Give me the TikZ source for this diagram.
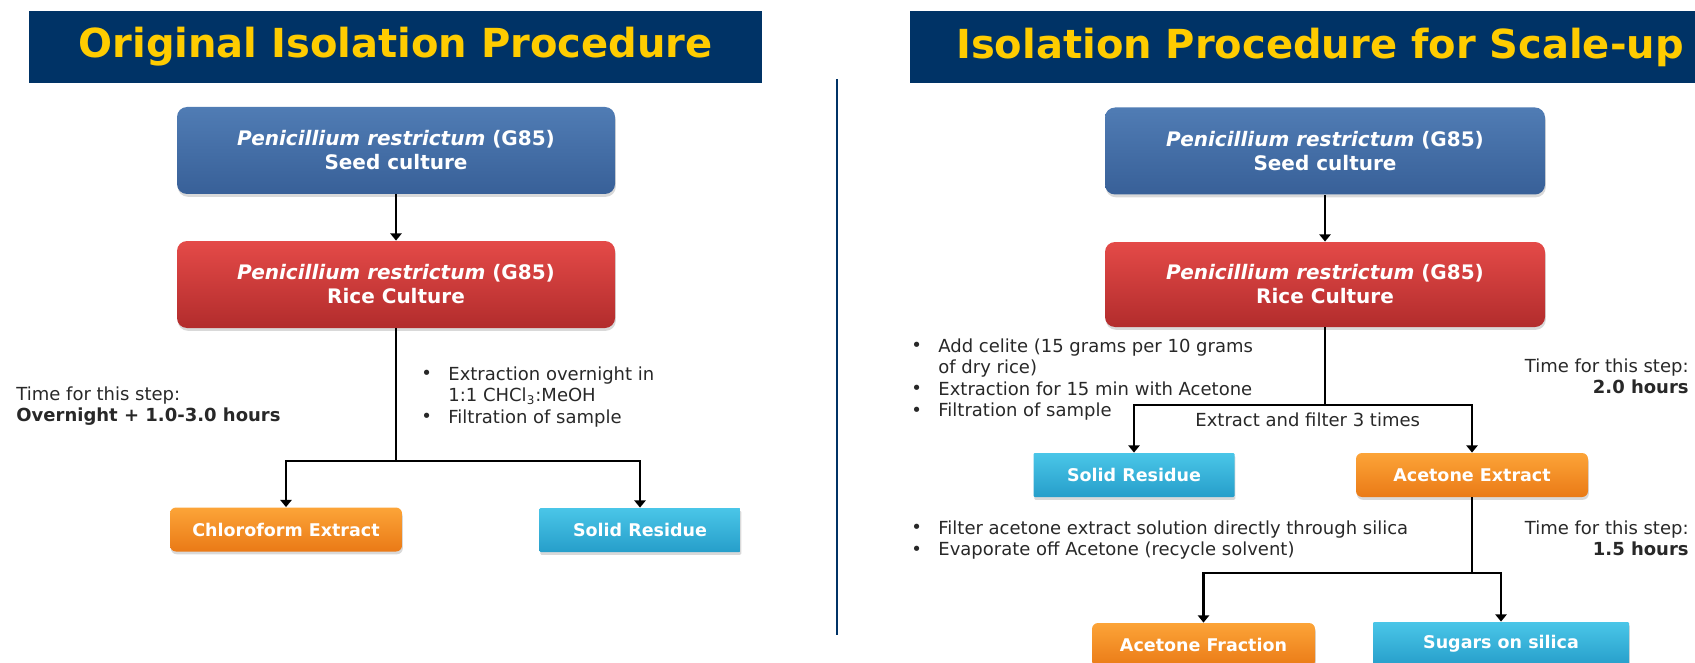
\documentclass[tikz,border=0pt]{standalone}
\usepackage{fontspec}
\usepackage{graphicx}
\setmainfont{DejaVu Sans}
\usetikzlibrary{arrows.meta,shadows}
\definecolor{navy}{RGB}{0,51,102}
\definecolor{gold}{RGB}{255,204,0}
\definecolor{bluetop}{RGB}{80,124,180}
\definecolor{bluebot}{RGB}{56,96,152}
\definecolor{redtop}{RGB}{228,74,72}
\definecolor{redbot}{RGB}{178,44,44}
\definecolor{orgtop}{RGB}{252,164,56}
\definecolor{orgbot}{RGB}{234,122,22}
\definecolor{cyantop}{RGB}{74,198,232}
\definecolor{cyanbot}{RGB}{38,158,202}
\definecolor{bodytxt}{RGB}{40,40,40}
\newcommand{\bul}{\makebox[12.5pt][l]{\hspace*{-1pt}\raisebox{0.05ex}{\scalebox{1.0}{•}}}}
\newcommand{\ind}{\makebox[12.5pt][l]{}}
\tikzset{
  titlebar/.style={fill=navy, text=gold, font=\fontsize{20}{24}\selectfont\bfseries, inner sep=0pt},
  bigbox/.style={rounded corners=5pt, minimum width=219pt, minimum height=43.5pt, inner sep=0pt,
    text=white, font=\fontsize{10}{12}\selectfont\bfseries, align=center,
    drop shadow={shadow xshift=0.4pt, shadow yshift=-1.4pt, opacity=0.3}},
  bluebox/.style={bigbox, top color=bluetop, bottom color=bluebot},
  redbox/.style={bigbox, top color=redtop, bottom color=redbot},
  smallbox/.style={minimum height=22pt, inner sep=0pt, text=white,
    font=\fontsize{8.75}{10}\selectfont\bfseries,
    drop shadow={shadow xshift=0.4pt, shadow yshift=-1.4pt, opacity=0.3}},
  orgbox/.style={smallbox, rounded corners=3pt, top color=orgtop, bottom color=orgbot},
  cyanbox/.style={smallbox, rounded corners=0.6pt, top color=cyantop, bottom color=cyanbot},
  body/.style={text=bodytxt, font=\fontsize{9}{10.75}\selectfont, inner sep=0pt, align=left},
  link/.style={line width=1.1pt, black},
  arr/.style={link, -{Triangle[length=3.6pt,width=5.6pt]}},
}
\begin{document}
\begin{tikzpicture}[x=0.5pt,y=-0.5pt]
\useasboundingbox (0,0) rectangle (1695,663);
\clip (0,0) rectangle (1695,663);

% titles
\node[titlebar, minimum width=366.5pt, minimum height=36pt] (ltitle) at (395.5,47) {Original Isolation Procedure};
\node[titlebar, minimum width=410pt, minimum height=36pt] (rtitle) at (1320,47) {Isolation Procedure for Scale-up};

% divider
\coordinate (dtop) at (837,79);
\coordinate (dbot) at (837,635);
\draw[navy, line width=1.2pt] (dtop) -- (dbot);

% ---------- left ----------
\node[bluebox] (lseed) at (396,150.5) {\textit{Penicillium restrictum} (G85)\\Seed culture};
\node[redbox] (lrice) at (396,284.5) {\textit{Penicillium restrictum} (G85)\\Rice Culture};
\node[orgbox, minimum width=116pt] (lchl) at (286,529.5) {Chloroform Extract};
\node[cyanbox, minimum width=100.5pt] (lsol) at (640,530) {Solid Residue};

\draw[arr] (lseed) -- (lrice);
\coordinate (lsplit) at (396,461);
\draw[link] (lrice.south) -- (lsplit);
\draw[arr] (lsplit) -| (lchl.north);
\draw[arr] (lsplit) -| (lsol.north);

\node[body, anchor=north west] (ltime) at (16,386) {Time for this step:\\\textbf{Overnight + 1.0-3.0 hours}};
\node[body, anchor=north west] (lbul) at (423,366) {\bul Extraction overnight in\\\ind 1:1 CHCl\textsubscript{3}:MeOH\\\bul Filtration of sample};

% ---------- right ----------
\node[bluebox, minimum width=220pt] (rseed) at (1325,151) {\textit{Penicillium restrictum} (G85)\\Seed culture};
\node[redbox, minimum width=220pt, minimum height=42.5pt] (rrice) at (1325,284.5) {\textit{Penicillium restrictum} (G85)\\Rice Culture};
\node[cyanbox, minimum width=100.5pt] (rsol) at (1134,475) {Solid Residue};
\node[orgbox, minimum width=116pt] (raext) at (1472,475) {Acetone Extract};
\node[orgbox, minimum width=111.5pt] (rafrac) at (1203.5,645) {Acetone Fraction};
\node[cyanbox, minimum width=128pt] (rsug) at (1501,644) {Sugars on silica};

\draw[arr] (rseed) -- (rrice);
\coordinate (rsplit1) at (1325,405);
\draw[link] (rrice.south) -- (rsplit1);
\draw[arr] (rsplit1) -| (rsol.north);
\draw[arr] (rsplit1) -| (raext.north);
\coordinate (rsplit2) at (1472,573);
\draw[link] (raext.south) -- (rsplit2);
\draw[arr] (rsplit2) -| (rafrac.north);
\draw[arr] (rsplit2) -| (rsug.north);

\node[body, anchor=north west] (rbul1) at (913,338) {\bul Add celite (15 grams per 10 grams\\\ind of dry rice)\\\bul Extraction for 15 min with Acetone\\\bul Filtration of sample};
\node[body, anchor=west] (rthree) at (1195,420) {Extract and filter 3 times};
\node[body, anchor=north east, align=right] (rtime1) at (1689,358) {Time for this step:\\\textbf{2.0 hours}};
\node[body, anchor=north west] (rbul2) at (913,520) {\bul Filter acetone extract solution directly through silica\\\bul Evaporate off Acetone (recycle solvent)};
\node[body, anchor=north east, align=right] (rtime2) at (1689,520) {Time for this step:\\\textbf{1.5 hours}};
\end{tikzpicture}
\end{document}
